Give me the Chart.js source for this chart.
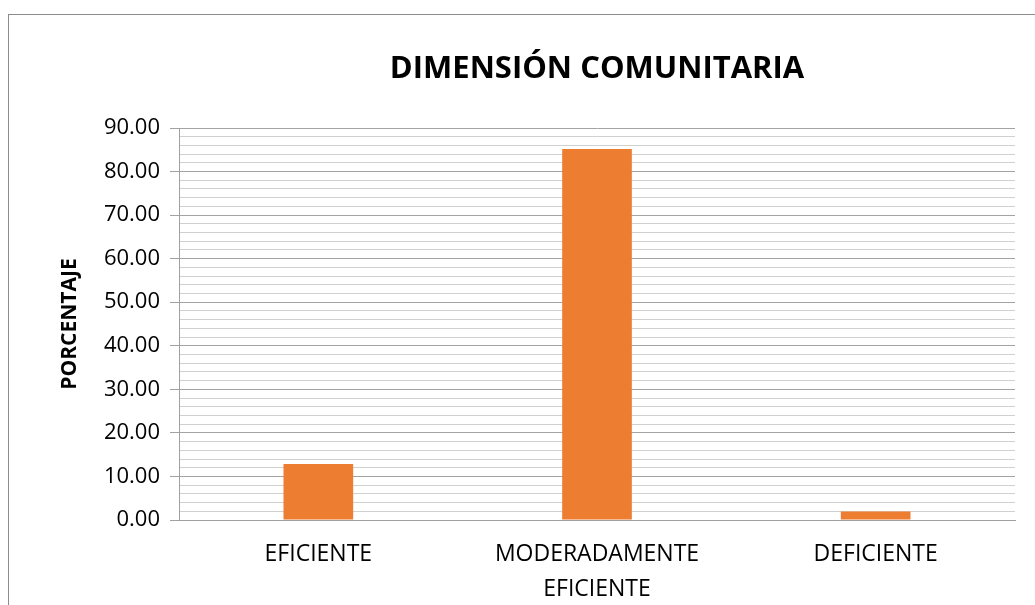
<!DOCTYPE html>
<html>
<head>
<meta charset="utf-8">
<script src="https://cdn.jsdelivr.net/npm/chart.js@4"></script>
<style>
  html, body { margin: 0; padding: 0; background: #ffffff; }
  #frame { position: absolute; left: 8px; top: 14px; width: 1100px; height: 700px; border: 1px solid #8c8c8c; box-sizing: border-box; }
  #wrap { position: absolute; left: 0; top: 0; width: 1035px; height: 605px; }
</style>
</head>
<body>
<div id="frame"></div>
<div id="wrap"><canvas id="c" width="1035" height="605"></canvas></div>
<script>
const chartTitle = 'DIMENSIÓN COMUNITARIA';
const yAxisTitle = 'PORCENTAJE';
const categories = [['EFICIENTE'], ['MODERADAMENTE', 'EFICIENTE'], ['DEFICIENTE']];
const percentages = [12.87, 85.15, 1.98];
const yMin = 0;
const yMax = 90;
const majorStep = 10;
const minorStep = 2;

const FONT = "'Open Sans', sans-serif";
const isMajor = v => Math.abs(v / majorStep - Math.round(v / majorStep)) < 1e-6;

new Chart(document.getElementById('c'), {
  type: 'bar',
  data: {
    labels: categories,
    datasets: [{
      data: percentages,
      backgroundColor: '#ED7D31',
      borderWidth: 0,
      categoryPercentage: 1.0,
      barPercentage: 0.25
    }]
  },
  options: {
    responsive: false,
    animation: false,
    layout: { padding: { left: 0, right: 20, top: 0, bottom: 0 } },
    plugins: {
      legend: { display: false },
      tooltip: { enabled: false },
      title: {
        display: true,
        text: chartTitle,
        fullSize: false,
        color: '#000000',
        font: { family: FONT, size: 31, weight: 'bold', lineHeight: 1.2 },
        padding: { top: 50.4, bottom: 40.4 }
      }
    },
    scales: {
      x: {
        grid: { display: false },
        border: { display: true, color: '#a0a0a0', width: 1 },
        ticks: {
          color: '#000000',
          font: { family: FONT, size: 23, lineHeight: '35px' },
          padding: 8.5,
          maxRotation: 0,
          autoSkip: false
        },
        afterFit: s => { s.height = 85; }
      },
      y: {
        min: yMin,
        max: yMax,
        afterFit: s => { s.width = 179; },
        border: { display: true, color: '#a0a0a0', width: 1 },
        grid: {
          color: ctx => isMajor(ctx.tick.value) ? '#a3a3a3' : '#d0d0d0',
          tickColor: ctx => isMajor(ctx.tick.value) ? '#a3a3a3' : 'rgba(0,0,0,0)',
          tickLength: 9,
          lineWidth: 1
        },
        ticks: {
          stepSize: minorStep,
          autoSkip: false,
          color: '#000000',
          font: { family: FONT, size: 22 },
          padding: 10,
          callback: v => isMajor(v) ? v.toFixed(2) : ''
        },
        title: {
          display: true,
          text: yAxisTitle,
          color: '#000000',
          font: { family: FONT, size: 21, weight: 'bold', lineHeight: 1.2 },
          padding: { top: 57.4, bottom: 0 }
        }
      }
    }
  }
});
</script>
</body>
</html>
